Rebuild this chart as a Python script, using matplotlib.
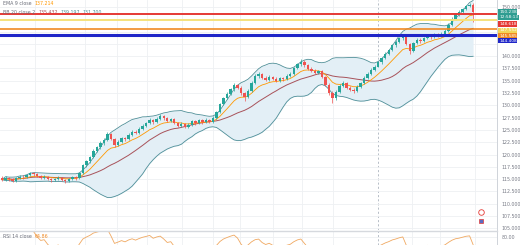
import numpy as np
import pandas as pd
import matplotlib
matplotlib.use("Agg")
import matplotlib.pyplot as plt

# candle data (price scale on the right)
first_open = 115.3
closes = [114.9, 115.3, 115.0, 114.7, 115.2, 115.5, 115.4, 115.8, 116.2, 116.0,
          115.6, 115.3, 115.5, 115.1, 114.8, 115.0, 115.3, 114.9, 114.6, 115.0,
          115.4, 115.2, 116.3, 117.8, 118.6, 119.4, 120.8, 121.5, 122.3, 123.0,
          124.1, 123.2, 122.0, 122.6, 123.3, 123.1, 124.0, 124.6, 124.4, 125.2,
          125.9, 126.4, 127.0, 126.6, 127.3, 127.8, 127.4, 126.9, 127.2, 126.5,
          125.8, 126.3, 125.6, 126.1, 126.8, 126.4, 127.0, 126.6, 127.1, 126.7,
          127.5, 128.6, 130.2, 131.5, 132.4, 133.3, 134.1, 133.6, 132.5, 131.8,
          133.0, 134.6, 135.9, 136.3, 135.6, 135.2, 135.8, 135.4, 135.0, 135.5,
          135.3, 136.0, 136.4, 137.5, 138.4, 138.9, 138.2, 137.4, 137.0, 136.6,
          136.9, 135.8, 134.2, 132.6, 131.4, 132.8, 134.0, 134.6, 133.6, 133.2,
          133.0, 133.8, 134.5, 135.6, 136.4, 137.2, 137.9, 138.8, 139.6, 140.5,
          141.2, 142.2, 142.8, 143.6, 144.2, 142.5, 141.0, 142.6, 143.3, 143.0,
          143.6, 144.2, 143.8, 144.5, 144.1, 144.6, 145.2, 146.4, 147.6, 148.5,
          148.9, 149.5, 150.2, 150.5, 148.9]
highs = [115.6, 115.6, 115.5, 115.2, 115.5, 115.9, 115.8, 116.1, 116.5, 116.4,
         116.2, 115.8, 115.8, 115.7, 115.3, 115.2, 115.6, 115.5, 115.1, 115.2,
         115.6, 115.7, 116.5, 118.0, 118.9, 119.7, 121.1, 121.8, 122.7, 123.4,
         124.6, 124.4, 123.4, 122.9, 123.6, 123.6, 124.3, 124.9, 124.9, 125.5,
         126.2, 126.7, 127.4, 127.3, 127.6, 128.2, 128.0, 127.6, 127.5, 127.4,
         126.7, 126.6, 126.5, 126.4, 127.0, 127.0, 127.3, 127.2, 127.4, 127.3,
         127.8, 128.9, 130.5, 131.8, 132.7, 133.6, 134.5, 134.4, 133.9, 132.8,
         133.3, 134.9, 136.3, 136.7, 136.6, 135.9, 136.1, 136.0, 135.7, 135.8,
         135.8, 136.3, 136.7, 137.8, 138.7, 139.4, 139.2, 138.5, 137.7, 137.3,
         137.2, 137.1, 136.0, 134.5, 132.9, 133.1, 134.3, 135.0, 134.8, 133.9,
         133.5, 134.1, 134.8, 135.9, 136.7, 137.5, 138.2, 139.1, 139.9, 140.8,
         141.5, 142.5, 143.2, 143.9, 144.5, 144.4, 142.7, 142.9, 143.6, 143.6,
         143.9, 144.5, 144.5, 144.8, 144.8, 144.9, 145.5, 146.7, 147.9, 148.8,
         149.3, 149.8, 150.5, 150.9, 150.8]
lows = [114.6, 114.7, 114.7, 114.4, 114.5, 115.0, 115.1, 115.2, 115.6, 115.7,
        115.4, 115.0, 115.1, 114.9, 114.5, 114.6, 114.8, 114.7, 114.3, 114.4,
        114.8, 114.9, 115.0, 116.1, 117.5, 118.3, 119.2, 120.5, 121.2, 122.0,
        122.8, 122.9, 121.6, 121.7, 122.3, 122.8, 122.9, 123.8, 124.1, 124.2,
        125.0, 125.6, 126.2, 126.3, 126.4, 127.0, 127.1, 126.6, 126.7, 126.2,
        125.5, 125.6, 125.3, 125.4, 125.9, 126.1, 126.2, 126.3, 126.4, 126.4,
        126.5, 127.3, 128.4, 130.0, 131.2, 132.1, 133.0, 133.3, 132.2, 130.9,
        131.5, 132.8, 134.4, 135.6, 135.3, 134.9, 135.0, 135.1, 134.7, 134.8,
        135.0, 135.1, 135.8, 136.2, 137.3, 138.1, 137.9, 137.1, 136.7, 136.3,
        136.3, 135.5, 133.9, 132.2, 130.4, 131.1, 132.6, 133.7, 133.3, 132.9,
        132.6, 132.8, 133.6, 134.3, 135.4, 136.2, 137.0, 137.7, 138.5, 139.4,
        140.3, 141.0, 141.9, 142.6, 143.3, 142.2, 140.5, 140.8, 142.4, 142.7,
        142.8, 143.4, 143.5, 143.6, 143.8, 143.9, 144.4, 145.0, 146.2, 147.4,
        148.2, 148.6, 149.3, 150.0, 146.9]

# horizontal levels: red, yellow, orange, blue
level_prices = [148.6, 147.4, 145.6, 144.4]
level_labels = ['148.618', '147.552', '145.585', '144.408']
level_colors = ['#e53935', '#f5e27c', '#f08a24', '#1f26c8']
tag_colors = ['#e53935', '#f2d65a', '#f08a24', '#1f26c8']
level_widths = [1.4, 1.4, 1.2, 2.2]

last_label = '150.238'
countdown = '12:58:13'
ema_text = '137.214'
bb_texts = ['135.432', '139.197', '131.700']
rsi_text = '64.86'

price_ticks = np.arange(105, 150.1, 2.5)
hidden_ticks = [142.5, 145.0, 147.5]   # covered by the price tags
grid_x = [9.4, 23.6, 32.7, 41.3, 51.2, 60, 67.7, 77.1, 85.3, 94.2, 116.6, 124.6, 134.6]
session_x = 107

UP, DOWN = '#26a69a', '#ef5350'
LABEL = '#6a6d78'
FS = 3.4

df = pd.DataFrame({'close': closes, 'high': highs, 'low': lows})
df['open'] = [first_open] + closes[:-1]
x = np.arange(len(df))

ema9 = df['close'].ewm(span=9, adjust=False).mean()
basis = df['close'].rolling(20, min_periods=1).mean()
dev = df['close'].rolling(20, min_periods=1).std(ddof=0)
upper = basis + 2 * dev
lower = basis - 2 * dev

delta = df['close'].diff()
gain = delta.clip(lower=0).ewm(alpha=1 / 14, adjust=False).mean()
loss = (-delta.clip(upper=0)).ewm(alpha=1 / 14, adjust=False).mean()
rsi = 100 - 100 / (1 + gain / loss)

W, H = 520, 245
fig = plt.figure(figsize=(W / 100, H / 100), dpi=100)
fig.patch.set_facecolor('white')
ax = fig.add_axes([0, 15 / H, 497 / W, 230 / H])
rax = fig.add_axes([0, 0, 497 / W, 14 / H], sharex=ax)

# bollinger bands + ema
ax.fill_between(x, lower, upper, color='#e3eff6', lw=0, zorder=1)
ax.plot(x, upper, color='#4f8f98', lw=0.6, zorder=2)
ax.plot(x, lower, color='#4f8f98', lw=0.6, zorder=2)
ax.plot(x, basis, color='#a8525a', lw=0.7, zorder=2)
ax.plot(x, ema9, color='#ff9800', lw=0.6, zorder=2)

# candles
up = df['close'] >= df['open']
colors = np.where(up, UP, DOWN)
body_lo = np.minimum(df['open'], df['close'])
body_h = np.maximum(np.abs(df['close'] - df['open']), 0.08)
ax.vlines(x, df['low'], df['high'], colors=colors, lw=0.5, zorder=3)
ax.bar(x, body_h, bottom=body_lo, width=0.68, color=colors, lw=0, zorder=4)

for p, c, w in zip(level_prices, level_colors, level_widths):
    ax.axhline(p, color=c, lw=w, zorder=5)

# event marker
ax.plot(136.3, 108.4, marker='o', ms=4, mfc='white', mec='#e53935', mew=0.6, zorder=6)
ax.plot(136.3, 106.5, marker='s', ms=3.5, color='#5c6bc0', mec='#e53935', mew=0.5, zorder=6)

for a in (ax, rax):
    a.axvline(session_x, color='#9aa4b0', lw=0.5, ls=(0, (3, 3)), zorder=0)
    a.set_xticks(grid_x)
    a.tick_params(axis='x', length=0, labelbottom=False)
    a.grid(True, color='#eef0f3', lw=0.6, zorder=0)
    a.set_axisbelow(True)
    a.yaxis.tick_right()
    a.tick_params(axis='y', length=0, labelsize=FS, labelcolor='#787b86', pad=3)
    for s in ('left', 'bottom', 'top'):
        a.spines[s].set_visible(False)
    a.spines['right'].set_color('#c8ccd3')
    a.spines['right'].set_linewidth(0.6)

ax.set_xlim(-0.57, 140.8)
ax.set_ylim(104.66, 151.42)
ax.set_yticks(price_ticks)
ax.set_yticklabels(['' if any(abs(v - h) < 1e-6 for h in hidden_ticks) else f'{v:.3f}'
                    for v in price_ticks])

rax.plot(x, rsi, color='#f0a860', lw=0.6)
rax.set_ylim(69.3, 88)
rax.set_yticks([80])
rax.set_yticklabels(['80.00'])
rax.spines['top'].set_visible(True)
rax.spines['top'].set_color('#d6d9de')
rax.spines['top'].set_linewidth(1.0)


# right-side price tags
def price_tag(ypix, text, fc):
    fig.text(499 / W, 1 - ypix / H, text, fontsize=3.1, color='white', va='center', ha='left',
             bbox=dict(boxstyle='square,pad=0.12', fc=fc, ec='none'))


price_tag(12, last_label, '#2e9d91')
price_tag(17.2, countdown, '#2e9d91')
price_tag(24, level_labels[0], tag_colors[0])
price_tag(30.4, level_labels[1], tag_colors[1])
price_tag(35.6, level_labels[2], tag_colors[2])
price_tag(40.8, level_labels[3], tag_colors[3])

# indicator legends
t1 = fig.text(3 / W, 1 - 3.5 / H, 'EMA 9 close', fontsize=FS, color=LABEL, va='center')
ax.annotate(ema_text, xy=(1, 0.5), xycoords=t1, xytext=(2, 0), textcoords='offset points',
            fontsize=FS, color='#ff9800', va='center')
prev = fig.text(3 / W, 1 - 12 / H, 'BB 20 close 2', fontsize=FS, color=LABEL, va='center')
for v, c in zip(bb_texts, ['#a8525a', '#4f8f98', '#4f8f98']):
    prev = ax.annotate(v, xy=(1, 0.5), xycoords=prev, xytext=(2, 0), textcoords='offset points',
                       fontsize=FS, color=c, va='center')
t3 = rax.text(3 / W, 1 - 236 / H, 'RSI 14 close', transform=fig.transFigure,
              fontsize=FS, color=LABEL, va='center')
rax.annotate(rsi_text, xy=(1, 0.5), xycoords=t3, xytext=(2, 0), textcoords='offset points',
             fontsize=FS, color='#f08a24', va='center', annotation_clip=False)

fig.savefig('out.png', dpi=100)
